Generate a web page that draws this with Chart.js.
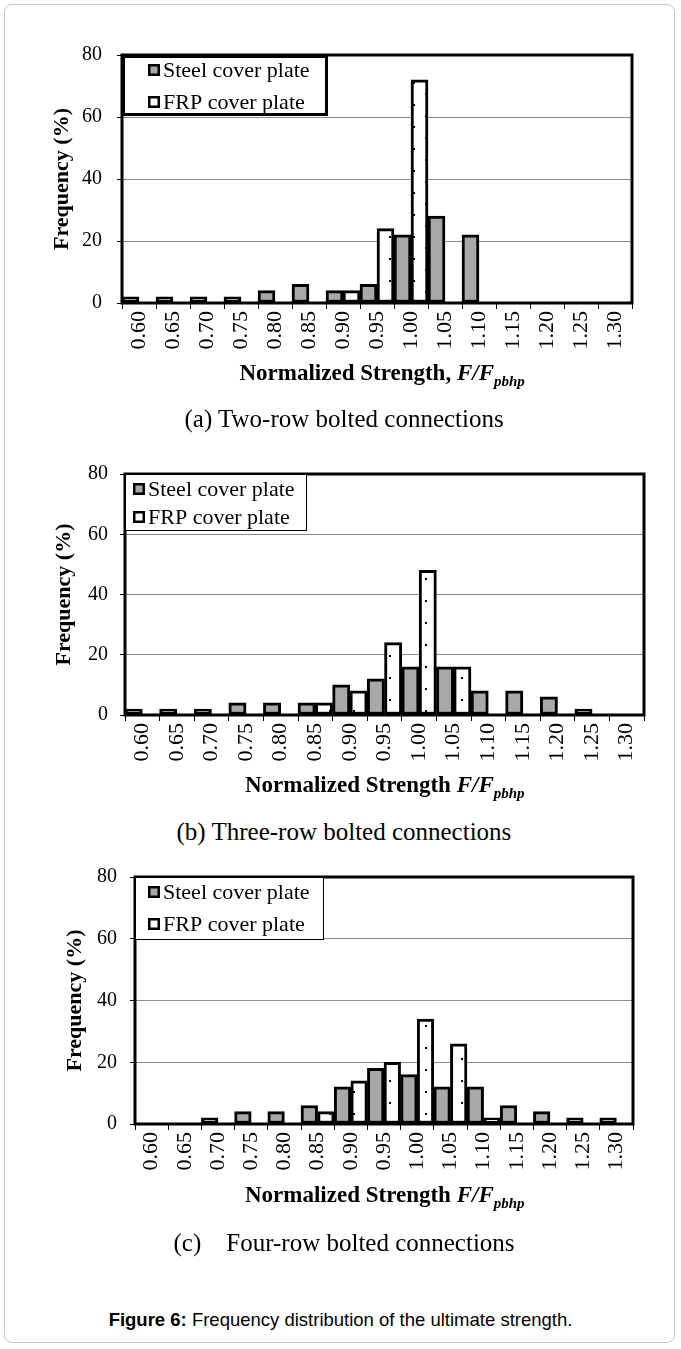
<!DOCTYPE html>
<html>
<head>
<meta charset="utf-8">
<script src="https://cdn.jsdelivr.net/npm/chart.js@4.4.1/dist/chart.umd.min.js"></script>
<style>
  body { margin: 0; background: #fff; }
  #page { position: relative; width: 681px; height: 1349px; overflow: hidden; }
  #outline { position: absolute; left: 4px; top: 4px; width: 671px; height: 1339px;
             border: 1px solid #c8c8c8; border-radius: 8px; box-sizing: border-box; }
  canvas { position: absolute; left: 0; }
  .txt { position: absolute; white-space: pre; font-family: "Liberation Serif", serif; color: #000; }
  .xtitle { font-weight: bold; font-size: 23px; line-height: 26px; }
  .xtitle sub { font-size: 15px; line-height: 0; vertical-align: -6px; }
  .sub { font-size: 25px; line-height: 28px; }
  #caption { position: absolute; left: 0; width: 681px; text-align: center; top: 1308px;
             font-family: "Liberation Sans", Arial, sans-serif; font-size: 18.5px; line-height: 24px; }
</style>
</head>
<body>
<div id="page">
  <div id="outline"></div>
  <div id="caption"><b>Figure 6:</b> Frequency distribution of the ultimate strength.</div>
</div>
<script>
// categories (normalized strength bins) and series names
const xLabels = ['0.60', '0.65', '0.70', '0.75', '0.80', '0.85', '0.90', '0.95',
                 '1.00', '1.05', '1.10', '1.15', '1.20', '1.25', '1.30'];
const seriesNames = ['Steel cover plate', 'FRP cover plate'];

// frequency (%)
const steelTwoRow   = [2, 2, 2, 2, 4, 6, 4, 6, 22, 28, 22, 0, 0, 0, 0];
const frpTwoRow     = [0, 0, 0, 0, 0, 0, 4, 24, 72, 0, 0, 0, 0, 0, 0];
const steelThreeRow = [2, 2, 2, 4, 4, 4, 10, 12, 16, 16, 8, 8, 6, 2, 0];
const frpThreeRow   = [0, 0, 0, 0, 0, 4, 8, 24, 48, 16, 0, 0, 0, 0, 0];
const steelFourRow  = [0, 0, 2, 4, 4, 6, 12, 18, 16, 12, 12, 6, 4, 2, 2];
const frpFourRow    = [0, 0, 0, 0, 0, 4, 14, 20, 34, 26, 2, 0, 0, 0, 0];

// y axis range
const yMin = 0;
const yMax = 80;
const yStep = 20;
const yTitle = 'Frequency (%)';

const subtitles = ['(a) Two-row bolted connections',
                   '(b) Three-row bolted connections',
                   '(c)    Four-row bolted connections'];
const xTitleText = ['Normalized Strength, ', 'Normalized Strength ', 'Normalized Strength '];

// layout of each panel (page pixels)
const panels = [
  { steel: steelTwoRow, frp: frpTwoRow, plotTop: 55, plotBottom: 303, plotLeft: 122, plotRight: 632,
    labelRight: 102, titleX: 62, xTitleY: 373, xTitleX: 382, subY: 419,
    legend: { x: 122, y: 55, w: 206, h: 61, bw: 3, markX: 148, row1: 70, row2: 102 } },
  { steel: steelThreeRow, frp: frpThreeRow, plotTop: 474, plotBottom: 715, plotLeft: 125, plotRight: 644,
    labelRight: 108, titleX: 64, xTitleY: 785, xTitleX: 385, subY: 832,
    legend: { x: 125, y: 474, w: 182, h: 57, bw: 1, markX: 133, row1: 489, row2: 517 } },
  { steel: steelFourRow, frp: frpFourRow, plotTop: 877, plotBottom: 1124, plotLeft: 135, plotRight: 633,
    labelRight: 117, titleX: 75, xTitleY: 1195, xTitleX: 385, subY: 1243,
    legend: { x: 135, y: 877, w: 189, h: 63, bw: 1, markX: 148, row1: 892, row2: 924 } }
];

const serif = 'Liberation Serif, serif';
const steelFill = '#a8a8a8';
const page = document.getElementById('page');

// thick black frame round the plot area
const framePlugin = {
  id: 'frame',
  afterDatasetsDraw(chart) {
    const a = chart.chartArea;
    const ctx = chart.ctx;
    ctx.save();
    ctx.strokeStyle = '#000';
    ctx.lineWidth = 3;
    ctx.strokeRect(a.left, a.top, a.right - a.left, a.bottom - a.top);
    ctx.restore();
  }
};

// boxed legend in the top-left corner of the plot
const boxLegendPlugin = {
  id: 'boxLegend',
  afterDraw(chart, args, opts) {
    const lg = opts.box;
    if (!lg) return;
    const ctx = chart.ctx;
    const dy = -opts.canvasTop;
    ctx.save();
    ctx.fillStyle = '#fff';
    ctx.fillRect(lg.x, lg.y + dy, lg.w, lg.h);
    ctx.strokeStyle = '#000';
    ctx.lineWidth = lg.bw;
    ctx.strokeRect(lg.x + lg.bw / 2, lg.y + dy + lg.bw / 2, lg.w - lg.bw, lg.h - lg.bw);
    ctx.font = '22px ' + serif;
    ctx.textBaseline = 'middle';
    ctx.textAlign = 'left';
    chart.data.datasets.forEach((ds, i) => {
      const cy = (i === 0 ? lg.row1 : lg.row2) + dy;
      ctx.fillStyle = i === 0 ? steelFill : '#fff';
      ctx.fillRect(lg.markX, cy - 6, 12, 12);
      ctx.lineWidth = 2.5;
      ctx.strokeRect(lg.markX + 1.25, cy - 4.75, 9.5, 9.5);
      ctx.fillStyle = '#000';
      ctx.fillText(ds.label, lg.markX + 15, cy + 1);
    });
    ctx.restore();
  }
};

function dotPattern(ctx) {
  const tile = document.createElement('canvas');
  tile.width = 24;
  tile.height = 22;
  const g = tile.getContext('2d');
  g.fillStyle = '#fff';
  g.fillRect(0, 0, 24, 22);
  g.fillStyle = '#000';
  g.fillRect(5, 1, 2, 2);
  g.fillRect(17, 12, 2, 2);
  return ctx.createPattern(tile, 'repeat');
}

function addText(cls, html, top, center) {
  const d = document.createElement('div');
  d.className = 'txt ' + cls;
  d.innerHTML = html;
  d.style.top = top + 'px';
  page.appendChild(d);
  d.style.left = (center - d.offsetWidth / 2) + 'px';
  return d;
}

function drawPanel(p, idx) {
  const canvasTop = p.plotTop - 40;
  const xAxisH = 62;
  const canvas = document.createElement('canvas');
  canvas.width = 681;
  canvas.height = p.plotBottom - canvasTop + xAxisH;
  canvas.style.top = canvasTop + 'px';
  page.appendChild(canvas);
  const ctx = canvas.getContext('2d');

  const titleFontSize = 22;
  new Chart(ctx, {
    type: 'bar',
    data: {
      labels: xLabels,
      datasets: [
        { label: seriesNames[0], data: p.steel, backgroundColor: steelFill,
          borderColor: '#000', borderWidth: 3, borderSkipped: false },
        { label: seriesNames[1], data: p.frp, backgroundColor: dotPattern(ctx),
          borderColor: '#000', borderWidth: 3, borderSkipped: false }
      ]
    },
    options: {
      responsive: false,
      animation: false,
      devicePixelRatio: 1,
      categoryPercentage: 1,
      barPercentage: 1,
      layout: { padding: { left: 0, top: p.plotTop - canvasTop, right: 681 - p.plotRight, bottom: 0 } },
      plugins: {
        legend: { display: false },
        tooltip: { enabled: false },
        boxLegend: { box: p.legend, canvasTop: canvasTop }
      },
      scales: {
        x: {
          afterFit(scale) { scale.height = xAxisH; },
          border: { display: false },
          grid: { offset: true, drawOnChartArea: false, drawTicks: true, tickLength: 6,
                  color: '#000', lineWidth: 1 },
          ticks: { autoSkip: false, maxRotation: 90, minRotation: 90, padding: 2,
                   color: '#000', font: { family: serif, size: 22 } }
        },
        y: {
          min: yMin,
          max: yMax,
          afterFit(scale) { scale.width = p.plotLeft; },
          border: { display: false },
          grid: { color: '#8c8c8c', lineWidth: 1, tickColor: '#000', tickLength: 5 },
          ticks: { stepSize: yStep, padding: p.plotLeft - p.labelRight - 5, color: '#000',
                   font: { family: serif, size: 20 } },
          title: { display: true, text: yTitle, color: '#000',
                   padding: { top: p.titleX - titleFontSize * 0.6, bottom: 0 },
                   font: { family: serif, size: titleFontSize, weight: 'bold' } }
        }
      }
    },
    plugins: [framePlugin, boxLegendPlugin]
  });

  addText('xtitle', xTitleText[idx] + '<i>F/F<sub>pbhp</sub></i>', p.xTitleY - 13, p.xTitleX);
  addText('sub', subtitles[idx], p.subY - 14, 344);
}

panels.forEach(drawPanel);
</script>
</body>
</html>
